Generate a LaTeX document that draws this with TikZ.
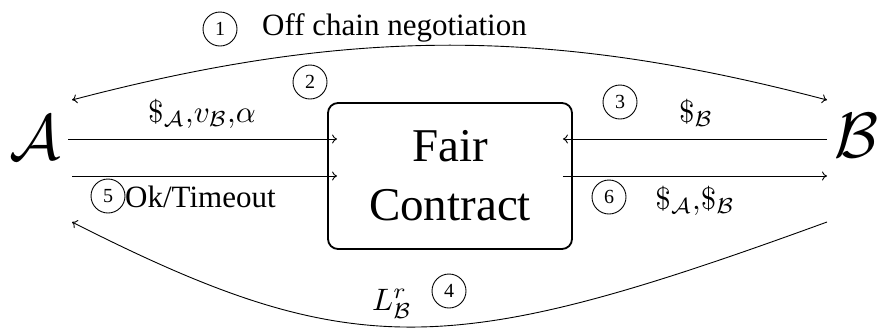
\documentclass[tikz,border=0pt]{standalone}
\usepackage{fontspec}
\setmainfont{Liberation Serif}
\usetikzlibrary{arrows.meta,calc}

\begin{document}
\begin{tikzpicture}[x=1pt,y=-1pt,
  link/.style={line width=0.9pt,-{To[length=5pt,width=9pt]}},
  twoway/.style={line width=0.9pt,{To[length=5pt,width=9pt]}-{To[length=5pt,width=9pt]}},
  stepnum/.style={circle,draw,line width=0.9pt,minimum size=34pt,inner sep=0pt,
    font=\rmfamily\fontsize{20}{24}\selectfont},
  txt/.style={inner sep=0pt,font=\rmfamily\fontsize{31}{37}\selectfont},
  mlbl/.style={inner sep=0pt,font=\fontsize{10}{12}\selectfont,scale=3.1},
  party/.style={inner sep=0pt,font=\fontsize{10}{12}\selectfont,scale=6.4},
  contract/.style={draw,rounded corners=10pt,line width=1.8pt,
    minimum width=244pt,minimum height=146pt,align=center,
    font=\rmfamily\fontsize{47}{59}\selectfont}
]
\useasboundingbox (0,0) rectangle (885,333);

% parties and the contract
\node[party] (A) at (35,138) {$\mathcal{A}$};
\node[party] (B) at (856,136) {$\mathcal{B}$};
\node[contract] (fc) at (450,176) {Fair\\Contract};

% connector ends beside the parties
\coordinate (aTop) at (72,100);
\coordinate (aIn)  at (68,139);
\coordinate (aOut) at (72,176);
\coordinate (aBot) at (72,222);
\coordinate (bTop) at (827,100);
\coordinate (bIn)  at (827,139);
\coordinate (bOut) at (827,176);
\coordinate (bBot) at (827,222);

% off-chain negotiation
\draw[twoway] (aTop) .. controls (350,27) and (550,27) .. (bTop);
% deposits into the contract
\draw[link] (aIn) -- ($(aIn -| fc.west)+(10,0)$);
\draw[link] (bIn) -- ($(bIn -| fc.east)+(-10,0)$);
\draw[link] (aOut) -- ($(aOut -| fc.west)+(10,0)$);
\draw[link] ($(bOut -| fc.east)+(-10,0)$) -- (bOut);
% reveal back to A
\draw[link] (bBot) .. controls (451,359) and (354,365) .. (aBot);

% step numbers
\node[stepnum] (s1) at (220,29) {1};
\node[stepnum] (s2) at (310,82) {2};
\node[stepnum] (s3) at (620,102) {3};
\node[stepnum] (s4) at (449,291) {4};
\node[stepnum] (s5) at (108,196) {5};
\node[stepnum] (s6) at (609,197) {6};

% labels
\node[txt,anchor=base west] (t1) at (262,35) {Off chain negotiation};
\node[mlbl,anchor=base] (t2) at (202,122) {$\$_{\mathcal{A}}{,}v_{\mathcal{B}}{,}\alpha$};
\node[mlbl,anchor=base] (t3) at (696,122) {$\$_{\mathcal{B}}$};
\node[mlbl,anchor=base] (t4) at (392,310) {$L^r_{\mathcal{B}}$};
\node[txt,anchor=base west] (t5) at (125,207) {Ok/Timeout};
\node[mlbl,anchor=base] (t6) at (695,209) {$\$_{\mathcal{A}}{,}\$_{\mathcal{B}}$};
\end{tikzpicture}
\end{document}
